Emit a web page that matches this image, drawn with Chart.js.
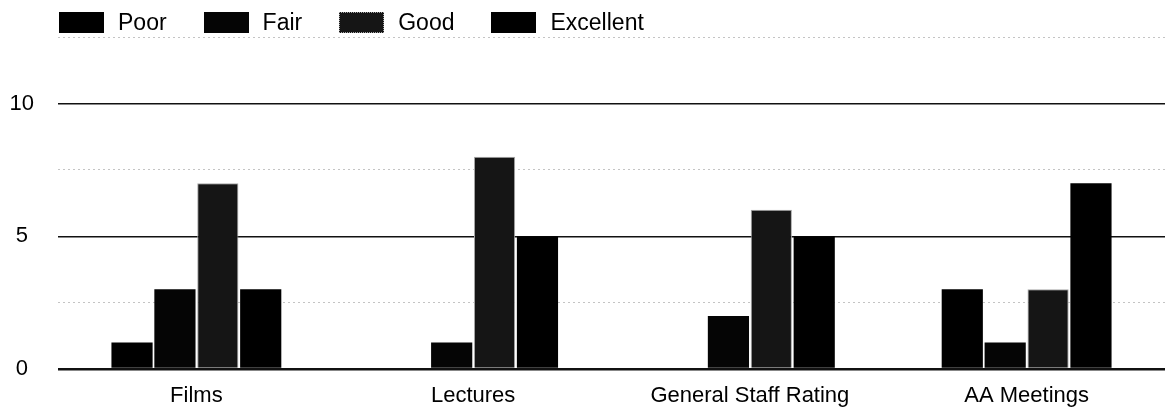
<!DOCTYPE html>
<html>
<head>
<meta charset="utf-8">
<script src="https://cdn.jsdelivr.net/npm/chart.js@4/dist/chart.umd.min.js"></script>
<style>
  body { margin: 0; background: #fff; font-family: "Liberation Sans", Arial, sans-serif; }
  .wrap { position: relative; width: 1165px; height: 411px; }
  #legend { position: absolute; left: 59px; top: 12px; display: flex; gap: 37px; font-size: 23px; color: #000; }
  #legend .item { display: flex; align-items: center; height: 21px; }
  #legend .box { width: 45px; height: 21px; box-sizing: border-box; margin-right: 14px; }
</style>
</head>
<body>
<div class="wrap">
  <canvas id="myChart"></canvas>
  <div id="legend"></div>
</div>
<script>
/*data*/

const categories = ["Films", "Lectures", "General Staff Rating", "AA Meetings"];
const poor = [1, 0, 0, 3];
const fair = [3, 1, 2, 1];
const good = [7, 8, 6, 3];
const excellent = [3, 5, 5, 7];
const yTicks = [0, 5, 10];

/*chart*/

Chart.defaults.font.family = '"Liberation Sans", Arial, sans-serif';
Chart.defaults.color = '#000';

var ctx = document.getElementById('myChart').getContext('2d');

var chart = new Chart(ctx, {
    type: 'bar',
    data: {
        labels: categories,
        datasets: [{
            label: "Poor",
            backgroundColor: '#000',
            borderWidth: 0,
            data: poor,
        },
        {
            label: "Fair",
            backgroundColor: '#050505',
            borderWidth: 0,
            data: fair,
        },
        {
            label: "Good",
            backgroundColor: '#151515',
            borderColor: '#a8a8a8',
            borderWidth: 1,
            data: good,
        },
        {
            label: "Excellent",
            backgroundColor: '#000',
            borderWidth: 0,
            data: excellent,
        }]
    },
    options: {
        responsive: true,
        maintainAspectRatio: false,
        animation: false,
        layout: { padding: { top: 31, right: 0, bottom: 1, left: 0 } },
        datasets: { bar: { categoryPercentage: 0.62, barPercentage: 0.96 } },
        plugins: {
            legend: { display: false },
            tooltip: { enabled: false }
        },
        scales: {
            x: {
                afterFit: function(scale) { scale.height = 41; },
                grid: { display: false, drawTicks: false },
                border: { display: false },
                ticks: { font: { size: 22 }, padding: 14, maxRotation: 0 }
            },
            y: {
                min: 0,
                max: 12.5,
                afterFit: function(scale) { scale.width = 58; },
                ticks: {
                    stepSize: 2.5,
                    font: { size: 22 },
                    padding: 24,
                    crossAlign: 'center',
                    callback: function(value) {
                        return yTicks.indexOf(value) >= 0 ? String(value) : '';
                    }
                },
                grid: {
                    drawTicks: false,
                    color: function(c) {
                        if (!c.tick) return '#111';
                        return yTicks.indexOf(c.tick.value) >= 0 ? '#111' : '#c4c4c4';
                    },
                    lineWidth: function(c) {
                        if (!c.tick) return 1;
                        if (c.tick.value === 0) return 2.5;
                        return yTicks.indexOf(c.tick.value) >= 0 ? 1.5 : 1;
                    }
                },
                border: {
                    display: false,
                    dash: function(c) {
                        if (!c.tick) return [];
                        return yTicks.indexOf(c.tick.value) >= 0 ? [] : [2, 3];
                    }
                }
            }
        }
    }
});

/*legend*/

const legendEl = document.getElementById('legend');
chart.data.datasets.forEach(function(ds) {
    const item = document.createElement('div');
    item.className = 'item';
    const box = document.createElement('span');
    box.className = 'box';
    box.style.background = ds.backgroundColor;
    if (ds.borderWidth) box.style.border = ds.borderWidth + 'px dotted ' + ds.borderColor;
    const text = document.createElement('span');
    text.textContent = ds.label;
    item.appendChild(box);
    item.appendChild(text);
    legendEl.appendChild(item);
});
</script>
</body>
</html>
